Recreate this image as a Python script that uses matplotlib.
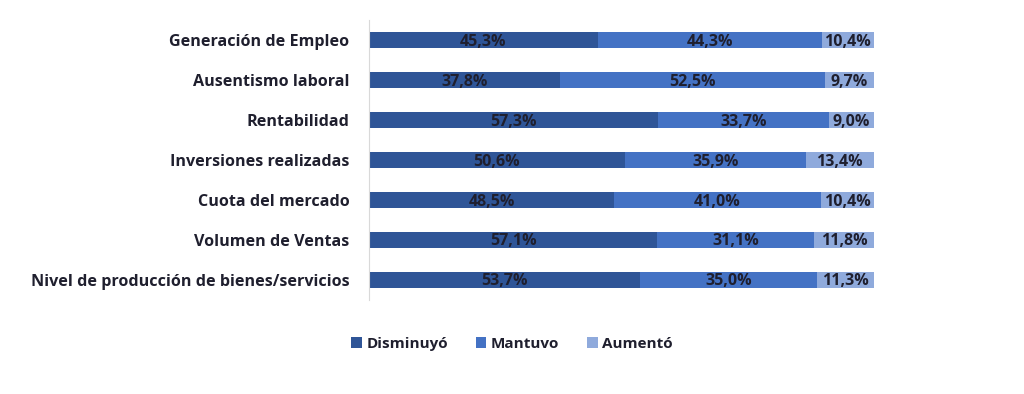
import matplotlib.pyplot as plt
import numpy as np

plt.rcParams['font.family'] = ['Open Sans', 'DejaVu Sans']

# Data (top to bottom)
categories = ["Generación de Empleo", "Ausentismo laboral", "Rentabilidad",
              "Inversiones realizadas", "Cuota del mercado", "Volumen de Ventas",
              "Nivel de producción de bienes/servicios"]
disminuyo = [45.3, 37.8, 57.3, 50.6, 48.5, 57.1, 53.7]
mantuvo = [44.3, 52.5, 33.7, 35.9, 41.0, 31.1, 35.0]
aumento = [10.4, 9.7, 9.0, 13.4, 10.4, 11.8, 11.3]

series = [("Disminuyó", disminuyo, "#2F5597"),
          ("Mantuvo", mantuvo, "#4472C4"),
          ("Aumentó", aumento, "#8FAADC")]

text_color = "#1F1F2E"

fig = plt.figure(figsize=(10.24, 3.94), dpi=100)
ax = fig.add_axes([0.3604, 0.239, 0.4932, 0.71])

y = np.arange(len(categories))[::-1]
left = np.zeros(len(categories))
for name, vals, color in series:
    vals = np.array(vals)
    ax.barh(y, vals, left=left, height=0.4, color=color, label=name)
    for yi, l, v in zip(y, left, vals):
        ax.text(l + v / 2, yi - 0.04, f"{v:.1f}%".replace(".", ","), ha="center", va="center",
                fontsize=11.5, fontweight="bold", color=text_color)
    left += vals

ax.set_xlim(0, 100)
ax.set_ylim(-0.5, 6.5)
ax.set_yticks(y)
ax.set_yticklabels(categories, fontsize=11.6, fontweight="bold", color=text_color)
ax.tick_params(axis="y", length=0, pad=14)
ax.set_xticks([])
for s in ["top", "right", "bottom"]:
    ax.spines[s].set_visible(False)
ax.spines["left"].set_color("#D9D9D9")

leg = fig.legend(loc="center", bbox_to_anchor=(0.5, 0.127), ncol=3, frameon=False,
                 fontsize=11, handlelength=0.7, handleheight=0.7, handletextpad=0.3,
                 columnspacing=1.8)
for t in leg.get_texts():
    t.set_fontweight("bold")
    t.set_color(text_color)

fig.savefig("out.png", dpi=100)
